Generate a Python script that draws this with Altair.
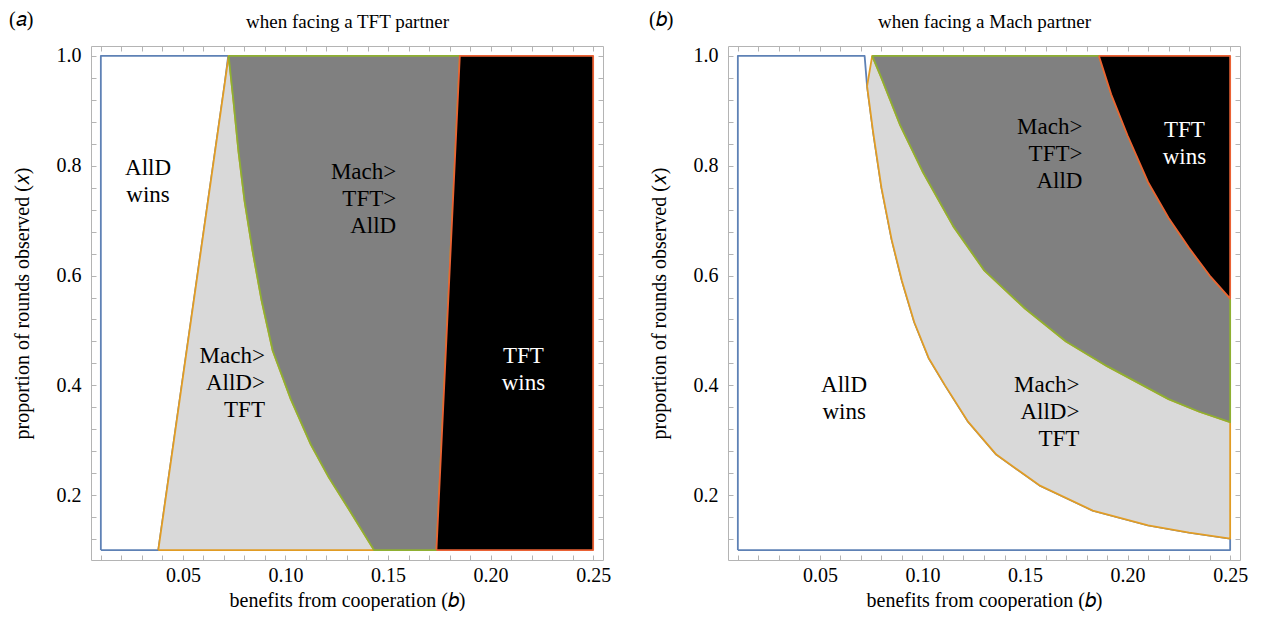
import altair as alt
import pandas as pd

FONT = "Liberation Serif"

# ---- common extents ----
B_MIN, B_MAX = 0.01, 0.25
X_MIN, X_MAX = 0.10, 1.00
X_TICKS = [0.01, 0.02, 0.03, 0.04, 0.05, 0.06, 0.07, 0.08, 0.09, 0.10, 0.11, 0.12, 0.13,
           0.14, 0.15, 0.16, 0.17, 0.18, 0.19, 0.20, 0.21, 0.22, 0.23, 0.24, 0.25]
Y_TICKS = [0.12, 0.16, 0.20, 0.24, 0.28, 0.32, 0.36, 0.40, 0.44, 0.48, 0.52, 0.56, 0.60,
           0.64, 0.68, 0.72, 0.76, 0.80, 0.84, 0.88, 0.92, 0.96, 1.00]

# ---- panel (a): facing a TFT partner ----
A_CORNER_B = 0.0721
A_ORANGE_B = [0.038, 0.0704]
A_ORANGE_X = [0.10, 0.95]
A_GREEN_B = [0.0723, 0.0747, 0.0771, 0.0801, 0.0840, 0.0884, 0.0938, 0.1026, 0.1124, 0.1212, 0.1310, 0.1432]
A_GREEN_X = [1.00, 0.916, 0.826, 0.735, 0.644, 0.554, 0.463, 0.375, 0.292, 0.232, 0.174, 0.10]
A_RED_B = [0.1736, 0.1850]
A_RED_X = [0.10, 1.00]

A_CENTER_TEXT = ["AllD\nwins", "TFT\nwins"]
A_CENTER_B = [0.033, 0.216]
A_CENTER_X = [0.796, 0.454]
A_CENTER_COLOR = ["black", "white"]
A_RIGHT_TEXT = ["Mach>\nAllD>\nTFT", "Mach>\nTFT>\nAllD"]
A_RIGHT_B = [0.090, 0.154]
A_RIGHT_X = [0.454, 0.788]

# ---- panel (b): facing a Mach partner ----
B_CORNER_B = 0.0718
B_ORANGE_B = [0.0730, 0.0760, 0.0800, 0.0850, 0.0900, 0.0960, 0.1030, 0.1110, 0.1220, 0.1360, 0.1570, 0.1830, 0.2100, 0.2300, 0.2500]
B_ORANGE_X = [0.945, 0.86, 0.76, 0.665, 0.59, 0.515, 0.45, 0.40, 0.335, 0.274, 0.218, 0.172, 0.145, 0.132, 0.121]
B_GREEN_B = [0.0755, 0.0800, 0.0890, 0.1000, 0.1150, 0.1300, 0.1500, 0.1700, 0.1900, 0.2050, 0.2200, 0.2350, 0.2500]
B_GREEN_X = [1.00, 0.96, 0.875, 0.79, 0.69, 0.61, 0.54, 0.48, 0.435, 0.405, 0.375, 0.352, 0.333]
B_RED_B = [0.1860, 0.1920, 0.2000, 0.2100, 0.2200, 0.2300, 0.2400, 0.2500]
B_RED_X = [1.00, 0.93, 0.855, 0.77, 0.705, 0.65, 0.60, 0.558]

B_CENTER_TEXT = ["AllD\nwins", "TFT\nwins"]
B_CENTER_B = [0.0618, 0.2277]
B_CENTER_X = [0.400, 0.865]
B_CENTER_COLOR = ["black", "white"]
B_RIGHT_TEXT = ["Mach>\nAllD>\nTFT", "Mach>\nTFT>\nAllD"]
B_RIGHT_B = [0.1765, 0.178]
B_RIGHT_X = [0.400, 0.870]

FILL_WHITE, FILL_LIGHT, FILL_DARK, FILL_BLACK = "#ffffff", "#d9d9d9", "#808080", "#000000"
ST_BLUE, ST_ORANGE, ST_GREEN, ST_RED = "#5E81B5", "#E19C24", "#8FB032", "#EB6235"
FRAME = "#b4b4b4"

W, H = 512, 514
xs = alt.Scale(domain=[0.0052, 0.2548], nice=False, zero=False)
ys = alt.Scale(domain=[0.082, 1.018], nice=False, zero=False)

X_LABEL = "abs(datum.value*20 - round(datum.value*20)) < 1e-6 ? format(datum.value, '.2f') : ''"
Y_LABEL = "abs(datum.value*5 - round(datum.value*5)) < 1e-6 ? format(datum.value, '.1f') : ''"

tick_common = dict(grid=False, domain=False, offset=-5, tickSize=5, tickColor=FRAME, tickWidth=1)
title_common = dict(titleFont=FONT, titleFontSize=20, titleFontWeight="normal", titleColor="black")

x_axis_main = alt.Axis(values=X_TICKS, labelExpr=X_LABEL, title="benefits from cooperation (𝑏)",
                       labelFont=FONT, labelFontSize=20, labelColor="black", labelPadding=5,
                       labelOverlap=False, labelFlush=False, titlePadding=5,
                       **title_common, **tick_common)
y_axis_main = alt.Axis(values=Y_TICKS, labelExpr=Y_LABEL, title="proportion of rounds observed (𝑥)",
                       labelFont=FONT, labelFontSize=20, labelColor="black", labelPadding=10,
                       labelOverlap=False, labelFlush=False, titlePadding=24,
                       **title_common, **tick_common)
y_axis_right = alt.Axis(orient="right", values=Y_TICKS, labels=False, title=None, **tick_common)


def top_axis(title):
    return alt.Axis(orient="top", values=X_TICKS, labels=False, title=title,
                    titleFont=FONT, titleFontSize=19, titleFontWeight="normal", titleColor="black",
                    titlePadding=14, **tick_common)


def polygon(bs, xv, fill, stroke, xaxis=None, yaxis=None):
    df = pd.DataFrame({"b": bs, "x": xv, "i": list(range(len(bs)))})
    return alt.Chart(df).mark_line(fill=fill, stroke=stroke, strokeWidth=1.8, strokeJoin="round").encode(
        x=alt.X("b:Q", scale=xs, axis=xaxis),
        y=alt.Y("x:Q", scale=ys, axis=yaxis),
        order=alt.Order("i:Q"),
    )


def labels(texts, bs, xv, colors, align):
    df = pd.DataFrame({"t": texts, "b": bs, "x": xv, "c": colors})
    return alt.Chart(df).mark_text(align=align, baseline="middle", font=FONT, fontSize=23,
                                   lineBreak="\n", lineHeight=27).encode(
        x=alt.X("b:Q", scale=xs, axis=None),
        y=alt.Y("x:Q", scale=ys, axis=None),
        text="t:N",
        color=alt.Color("c:N", scale=None),
    )


def tag(text, dx):
    df = pd.DataFrame({"t": [text]})
    return alt.Chart(df).mark_text(align="left", baseline="middle", font=FONT, fontSize=20,
                                   color="black").encode(
        x=alt.value(dx), y=alt.value(-26), text="t:N")


def panel(white, light, dark, black, centers, rights, tag_text, tag_dx, title):
    return alt.layer(
        polygon(*white, FILL_WHITE, ST_BLUE, x_axis_main, y_axis_main),
        polygon(*light, FILL_LIGHT, ST_ORANGE),
        polygon(*dark, FILL_DARK, ST_GREEN),
        polygon(*black, FILL_BLACK, ST_RED, top_axis(title), y_axis_right),
        labels(*centers, "center"),
        labels(*rights, "right"),
        tag(tag_text, tag_dx),
    ).resolve_axis(x="independent", y="independent").properties(width=W, height=H)


# polygons panel (a)
a_white = ([B_MIN] + A_ORANGE_B + [A_CORNER_B, B_MIN, B_MIN],
           [X_MIN] + A_ORANGE_X + [X_MAX, X_MAX, X_MIN])
a_light = (A_ORANGE_B[:1] + A_GREEN_B[::-1] + [A_ORANGE_B[-1], A_ORANGE_B[0]],
           A_ORANGE_X[:1] + A_GREEN_X[::-1] + [A_ORANGE_X[-1], A_ORANGE_X[0]])
a_dark = (A_GREEN_B + A_RED_B + [A_GREEN_B[0]],
          A_GREEN_X + A_RED_X + [A_GREEN_X[0]])
a_black = (A_RED_B + [B_MAX, B_MAX, A_RED_B[0]],
           A_RED_X + [X_MAX, X_MIN, A_RED_X[0]])

# polygons panel (b)
b_white = ([B_MIN, B_MAX] + B_ORANGE_B[::-1] + [B_CORNER_B, B_MIN, B_MIN],
           [X_MIN, X_MIN] + B_ORANGE_X[::-1] + [X_MAX, X_MAX, X_MIN])
b_light = (B_ORANGE_B + B_GREEN_B[::-1] + [B_ORANGE_B[0]],
           B_ORANGE_X + B_GREEN_X[::-1] + [B_ORANGE_X[0]])
b_dark = (B_GREEN_B + B_RED_B[::-1] + [B_GREEN_B[0]],
          B_GREEN_X + B_RED_X[::-1] + [B_GREEN_X[0]])
b_black = (B_RED_B + [B_MAX, B_RED_B[0]],
           B_RED_X + [X_MAX, B_RED_X[0]])

pa = panel(a_white, a_light, a_dark, a_black,
           (A_CENTER_TEXT, A_CENTER_B, A_CENTER_X, A_CENTER_COLOR),
           (A_RIGHT_TEXT, A_RIGHT_B, A_RIGHT_X, ["black", "black"]),
           "(𝑎)", -82, "when facing a TFT partner")
pb = panel(b_white, b_light, b_dark, b_black,
           (B_CENTER_TEXT, B_CENTER_B, B_CENTER_X, B_CENTER_COLOR),
           (B_RIGHT_TEXT, B_RIGHT_B, B_RIGHT_X, ["black", "black"]),
           "(𝑏)", -79, "when facing a Mach partner")

chart = alt.hconcat(pa, pb, spacing=36).properties(
    padding={"left": 0, "top": 1, "right": 0, "bottom": 0}
).configure_view(stroke=FRAME, strokeWidth=1)

chart.save("out.html", embed_options={"renderer": "svg", "actions": False})
